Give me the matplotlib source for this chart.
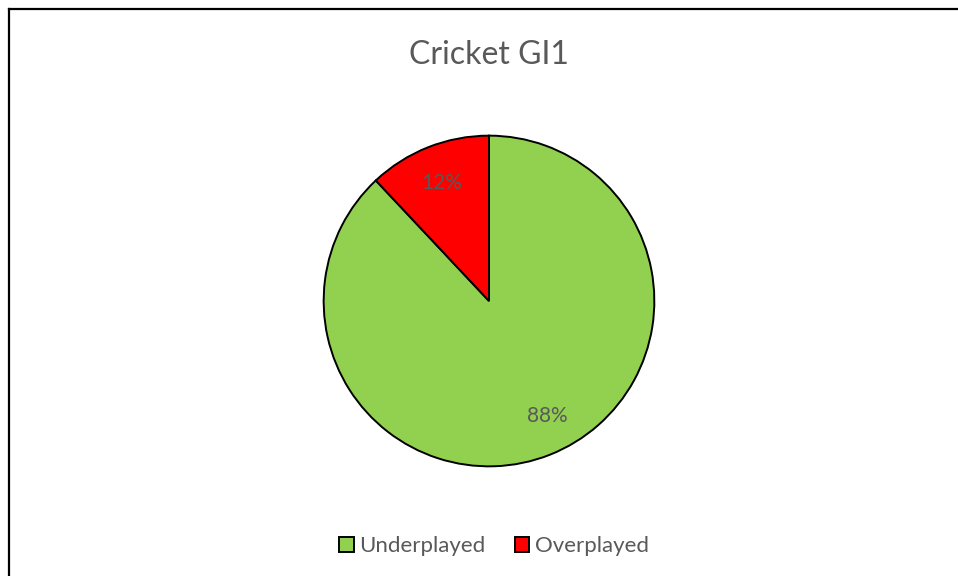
import matplotlib
matplotlib.use("Agg")
import matplotlib.pyplot as plt
from matplotlib.lines import Line2D

plt.rcParams['font.family'] = ['Lato', 'DejaVu Sans']

labels = ["Underplayed", "Overplayed"]
values = [88, 12]
colours = ["#92D050", "#FF0000"]
title = "Cricket GI1"
text_col = "#595959"

W, H = 958, 576
fig = plt.figure(figsize=(W / 100, H / 100), dpi=100)

# frame lines (top and left only, as in the reference crop)
fig.add_artist(Line2D([8.5 / W, 1], [1 - 8.5 / H, 1 - 8.5 / H], color="black", lw=1.6))
fig.add_artist(Line2D([8.5 / W, 8.5 / W], [0, 1 - 8.5 / H], color="black", lw=1.6))

cx, cy, r = 489, 301, 167
ax = fig.add_axes([(cx - r) / W, (H - cy - r) / H, 2 * r / W, 2 * r / H])
wedges, _, autotexts = ax.pie(values, colors=colours, startangle=90, counterclock=False,
                              autopct="%1.0f%%", pctdistance=0.77,
                              wedgeprops=dict(edgecolor="black", linewidth=1.4),
                              textprops=dict(color=text_col, fontsize=15))
# excel's best-fit puts the big label a little off the slice bisector
x0, y0 = autotexts[0].get_position()
autotexts[0].set_position((x0 + 0.07, y0 + 0.02))
ax.set_xlim(-1.01, 1.01)
ax.set_ylim(-1.01, 1.01)
ax.set_aspect("equal")
ax.axis("off")

fig.text(cx / W, 1 - 55 / H, title, ha="center", va="center", fontsize=23, color=text_col)

leg = fig.legend(wedges, labels, loc="center", bbox_to_anchor=(494 / W, 1 - 546 / H),
                 ncol=2, frameon=False, fontsize=16, handlelength=0.65, handleheight=0.65,
                 handletextpad=0.25, columnspacing=1.3)
for t in leg.get_texts():
    t.set_color(text_col)

fig.savefig("out.png", dpi=100)
